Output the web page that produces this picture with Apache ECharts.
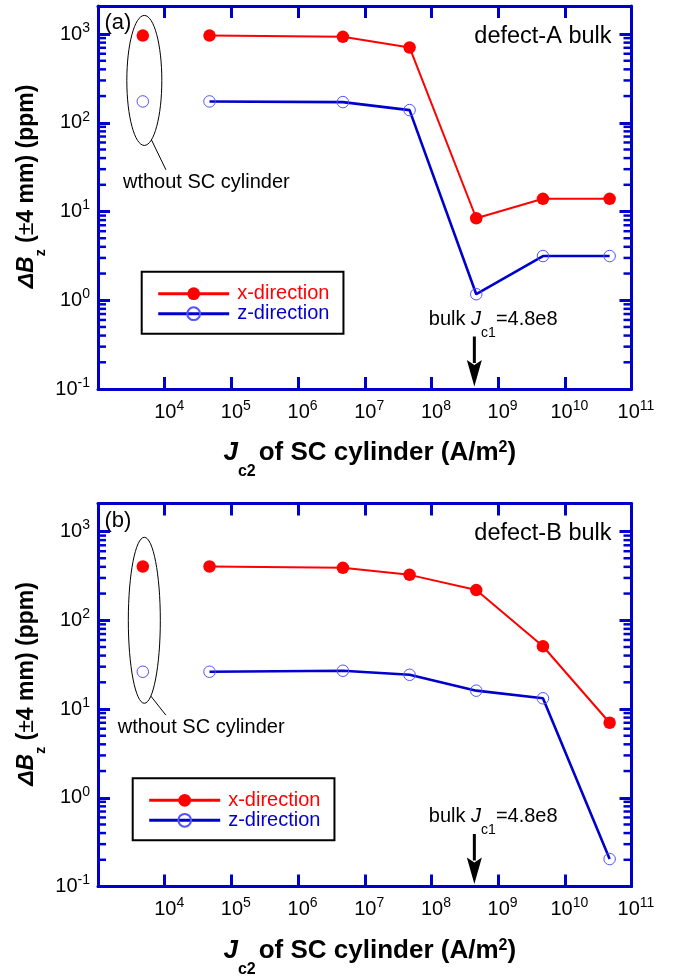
<!DOCTYPE html>
<html><head><meta charset="utf-8">
<script src="https://cdn.jsdelivr.net/npm/echarts@6/dist/echarts.min.js"></script>
<style>html,body{margin:0;padding:0;background:#fff}#c{width:675px;height:976px}</style>
</head><body><div id="c"></div>
<script>
// ---------- data ----------
const jc2 = [4.7e4, 4.7e6, 4.7e7, 4.7e8, 4.7e9, 4.7e10];
const jc2Without = 4.7e3;
const aXdir = [960, 930, 706, 8.4, 13.9, 13.9];
const aZdir = [174, 171, 139, 1.17, 3.15, 3.15];
const aXdirWithout = 960;
const aZdirWithout = 174;
const bXdir = [404, 390, 325, 219, 51, 7.0];
const bZdir = [26.3, 27, 24.3, 16.1, 13.2, 0.204];
const bXdirWithout = 404;
const bZdirWithout = 26.3;
const xLabelExps = [4, 5, 6, 7, 8, 9, 10, 11];
const yLabelExps = [-1, 0, 1, 2, 3];
const minorMantissas = [2, 3, 4, 5, 6, 7, 8, 9];
const minorDecades = [-1, 0, 1, 2];
const bulkJc1Label = '4.8e8';
const bulkJc1Arrow = 4.4e8;

// ---------- styles ----------
const X_MIN = 1e3, X_MAX = 1e11, Y_MIN = 0.1, Y_MAX = 2070;
const blue = '#0000cc';
const red = '#ff0000';
const markerBlue = '#5252ff';
const font = "'Liberation Sans', Arial, Helvetica, sans-serif";
const G = [{left: 98, top: 6, width: 533.5, height: 383},
           {left: 98, top: 503.5, width: 533.5, height: 383}];

const minorVals = [];
minorDecades.forEach(d => minorMantissas.forEach(m => minorVals.push(m * Math.pow(10, d))));

function expLabel(v, allowed, tok) {
  const l = Math.log10(v);
  const e = Math.round(l);
  if (Math.abs(l - e) > 1e-6 || allowed.indexOf(e) < 0) return '';
  return '{' + tok + '|10}{s|' + e + '}';
}
const labelRich = {
  b: {fontSize: 20, lineHeight: 33, verticalAlign: 'middle', fontFamily: font, color: '#000'},
  bx: {fontSize: 20, lineHeight: 33, verticalAlign: 'middle', fontFamily: font, color: '#000', padding: [0, 0, 0, 9]},
  s: {fontSize: 14, verticalAlign: 'middle', padding: [0, 0, 12, 0], fontFamily: font, color: '#000'}
};
const axLine = {show: true, onZero: false, lineStyle: {color: blue, width: 3}};
const majTick = {show: true, inside: true, length: 12, lineStyle: {color: blue, width: 3}};

const xTitle = '{J|J}{c|c2}{n|of SC cylinder (A/m}{s|2}{n|)}';
const xTitleRich = {
  J: {fontSize: 26, fontWeight: 'bold', fontStyle: 'italic', lineHeight: 28, verticalAlign: 'top', fontFamily: font, color: '#000'},
  n: {fontSize: 26, fontWeight: 'bold', lineHeight: 28, verticalAlign: 'top', fontFamily: font, color: '#000'},
  c: {fontSize: 16, fontWeight: 'bold', lineHeight: 64, verticalAlign: 'middle', fontFamily: font, color: '#000', padding: [0, 3, 0, 0]},
  s: {fontSize: 16, fontWeight: 'bold', lineHeight: 14, verticalAlign: 'top', fontFamily: font, color: '#000'}
};
const yTitle = '{i|ΔB}{z|z}{n| (}{pm|±}{n|4 mm) (ppm)}';
const yTitleRich = {
  i: {fontSize: 23, fontWeight: 'bold', fontStyle: 'italic', lineHeight: 26, verticalAlign: 'top', fontFamily: font, color: '#000'},
  n: {fontSize: 23, fontWeight: 'bold', lineHeight: 26, verticalAlign: 'top', fontFamily: font, color: '#000'},
  pm: {fontSize: 23, fontWeight: 'normal', lineHeight: 26, verticalAlign: 'top', fontFamily: font, color: '#000'},
  z: {fontSize: 14, fontWeight: 'bold', lineHeight: 52, verticalAlign: 'middle', fontFamily: font, color: '#000'}
};

const xAxes = [], yAxes = [], grids = [];
G.forEach((g, i) => {
  grids.push(Object.assign({containLabel: false, outerBoundsMode: 'none'}, g));
  xAxes.push({type: 'log', logBase: 10, gridIndex: i, position: 'bottom', min: X_MIN, max: X_MAX,
    axisLine: axLine, axisTick: majTick, splitLine: {show: false},
    axisLabel: {show: true, margin: 6.5, formatter: v => expLabel(v, xLabelExps, 'bx'), rich: labelRich},
    name: xTitle, nameLocation: 'middle', nameGap: 51, nameMoveOverlap: false,
    nameTextStyle: {rich: xTitleRich, padding: [0, 0, 0, 10]}});
  xAxes.push({type: 'log', logBase: 10, gridIndex: i, position: 'top', min: X_MIN, max: X_MAX,
    axisLine: axLine, axisTick: majTick, splitLine: {show: false}, axisLabel: {show: false}});
  yAxes.push({type: 'log', logBase: 10, gridIndex: i, position: 'left', min: Y_MIN, max: Y_MAX,
    axisLine: axLine, axisTick: majTick, splitLine: {show: false},
    axisLabel: {show: true, margin: 8, formatter: v => expLabel(v, yLabelExps, 'b'), rich: labelRich},
    name: yTitle, nameLocation: 'middle', nameRotate: 90, nameGap: 31, nameMoveOverlap: false,
    nameTextStyle: {rich: yTitleRich, padding: [0, 0, 0, 22]}});
  yAxes.push({type: 'log', logBase: 10, gridIndex: i, position: 'right', min: Y_MIN, max: Y_MAX,
    axisLine: axLine, axisTick: majTick, splitLine: {show: false}, axisLabel: {show: false}});
});

function markerStyle(isX) {
  return isX ? {color: red, opacity: 1}
             : {color: 'rgba(255,255,255,0)', borderColor: markerBlue, borderWidth: 1, opacity: 1};
}
function lineSeries(name, panel, xs, ys, isX) {
  return {
    type: 'line', name: name, xAxisIndex: panel * 2, yAxisIndex: panel * 2,
    data: xs.map((x, k) => [x, ys[k]]),
    symbol: 'circle', symbolSize: isX ? 12.5 : 11.5,
    lineStyle: {color: isX ? red : blue, width: isX ? 2 : 2.6},
    itemStyle: markerStyle(isX),
    z: isX ? 3 : 2, silent: true, animation: false
  };
}
function withoutSeries(panel, y, isX) {
  return {
    type: 'scatter', name: 'without-' + (isX ? 'x' : 'z') + panel, xAxisIndex: panel * 2, yAxisIndex: panel * 2,
    data: [[jc2Without, y]], symbol: 'circle', symbolSize: isX ? 12.5 : 11.5,
    itemStyle: markerStyle(isX), silent: true, animation: false
  };
}
function minorTickSeries(panel) {
  return {
    type: 'custom', xAxisIndex: panel * 2, yAxisIndex: panel * 2, silent: true, clip: false, animation: false,
    data: minorVals.map(v => [X_MIN, v]),
    renderItem: (params, api) => {
      const v = api.value(1);
      const L = api.coord([X_MIN, v]);
      const R = api.coord([X_MAX, v]);
      const st = {stroke: blue, lineWidth: 2.5};
      return {type: 'group', children: [
        {type: 'line', shape: {x1: L[0], y1: L[1], x2: L[0] + 8, y2: L[1]}, style: st},
        {type: 'line', shape: {x1: R[0], y1: R[1], x2: R[0] - 8, y2: R[1]}, style: st}
      ]};
    }
  };
}

const legendBoxes = [{left: 141.7, top: 271.7}, {left: 132.7, top: 778.3}];
const legends = legendBoxes.map(p => ({
  left: p.left, top: p.top, orient: 'vertical', selectedMode: false,
  padding: [12, 14, 10, 15], itemGap: 0, itemWidth: 71, itemHeight: 16,
  borderColor: '#000', borderWidth: 2, backgroundColor: '#fff',
  lineStyle: {width: 3}, textStyle: {fontSize: 20, fontFamily: font, padding: [0, 0, 0, 3]},
  data: [{name: 'x-direction', textStyle: {color: red}}, {name: 'z-direction', textStyle: {color: blue}}]
}));

const option = {
  backgroundColor: '#fff', animation: false,
  textStyle: {fontFamily: font},
  grid: grids, xAxis: xAxes, yAxis: yAxes, legend: legends,
  series: [
    minorTickSeries(0), minorTickSeries(1),
    lineSeries('x-direction', 0, jc2, aXdir, true), lineSeries('z-direction', 0, jc2, aZdir, false),
    withoutSeries(0, aXdirWithout, true), withoutSeries(0, aZdirWithout, false),
    lineSeries('x-direction', 1, jc2, bXdir, true), lineSeries('z-direction', 1, jc2, bZdir, false),
    withoutSeries(1, bXdirWithout, true), withoutSeries(1, bZdirWithout, false)
  ]
};

const chart = echarts.init(document.getElementById('c'), null, {renderer: 'canvas'});
chart.setOption(option);

// ---------- annotations anchored through the axes ----------
const panelNotes = [
  {tag: '(a)', defect: 'defect-A bulk', ellY: 300, rx: 17.5, ry: 65, lead: [14.5, 30], txt: [-43, 13]},
  {tag: '(b)', defect: 'defect-B bulk', ellY: 100, rx: 16, ry: 83, lead: [15, 19], txt: [-48, 12]}
];
const graphics = [];
panelNotes.forEach((n, i) => {
  const px = v => chart.convertToPixel({xAxisIndex: i * 2, yAxisIndex: i * 2}, v);
  const tl = px([X_MIN, Y_MAX]);
  const br = px([X_MAX, Y_MIN]);
  const y1e3 = px([X_MIN, 1e3])[1];
  graphics.push({type: 'text', x: tl[0] + 6.5, y: tl[1] + 17, silent: true,
    style: {text: n.tag, fontSize: 22, fontFamily: font, fill: '#000', verticalAlign: 'middle', align: 'left'}});
  graphics.push({type: 'text', x: br[0] - 20, y: y1e3 + 2, silent: true,
    style: {text: n.defect, fontSize: 23.5, fontFamily: font, fill: '#000', verticalAlign: 'middle', align: 'right'}});
  const c = px([jc2Without, n.ellY]);
  const cx = c[0] + 1.5, cy = c[1];
  graphics.push({type: 'ellipse', silent: true, shape: {cx: cx, cy: cy, rx: n.rx, ry: n.ry},
    style: {fill: 'none', stroke: '#000', lineWidth: 1}});
  const t = 66 * Math.PI / 180;
  const sx = cx + n.rx * Math.cos(t), sy = cy + n.ry * Math.sin(t);
  const ex = sx + n.lead[0], ey = sy + n.lead[1];
  graphics.push({type: 'line', silent: true, shape: {x1: sx, y1: sy, x2: ex, y2: ey}, style: {stroke: '#000', lineWidth: 1}});
  graphics.push({type: 'text', silent: true, x: ex + n.txt[0], y: ey + n.txt[1],
    style: {text: 'wthout SC cylinder', fontSize: 20, fontFamily: font, fill: '#000', verticalAlign: 'middle', align: 'left'}});
  const ax = px([bulkJc1Arrow, 1])[0];
  const axisY = br[1];
  graphics.push({type: 'line', silent: true, shape: {x1: ax, y1: axisY - 52.5, x2: ax, y2: axisY - 26}, style: {stroke: '#000', lineWidth: 3}});
  graphics.push({type: 'polygon', silent: true,
    shape: {points: [[ax - 7.5, axisY - 29], [ax, axisY - 24], [ax + 7.5, axisY - 29], [ax, axisY - 2.5]]},
    style: {fill: '#000'}});
  graphics.push({type: 'text', silent: true, x: ax - 45.5, y: axisY - 80,
    style: {text: '{n|bulk }{j|J}{c|c1}{n|=' + bulkJc1Label + '}', align: 'left', verticalAlign: 'top',
      rich: {
        n: {fontSize: 20, lineHeight: 22, verticalAlign: 'top', fontFamily: font, color: '#000'},
        j: {fontSize: 20, fontStyle: 'italic', lineHeight: 22, verticalAlign: 'top', fontFamily: font, color: '#000'},
        c: {fontSize: 14, lineHeight: 48, verticalAlign: 'middle', fontFamily: font, color: '#000'}
      }}});
});
chart.setOption({graphic: graphics});
</script>
</body></html>
